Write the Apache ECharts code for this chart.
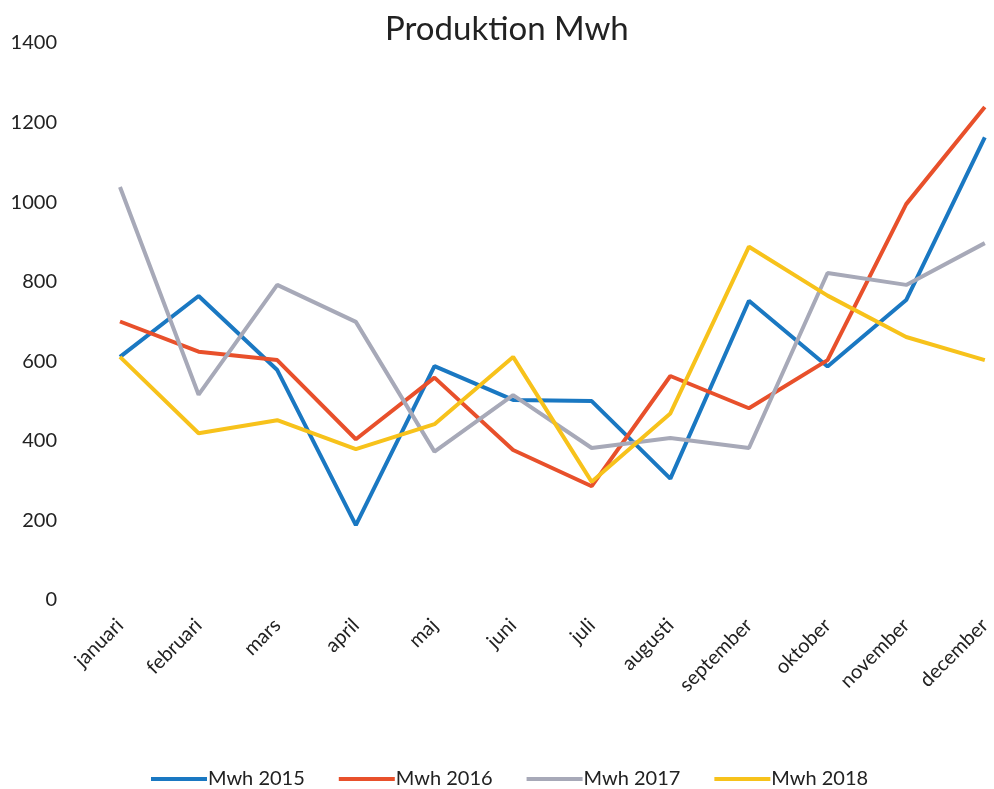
<!DOCTYPE html>
<html>
<head>
<meta charset="utf-8">
<title>Produktion Mwh</title>
<script src="https://cdn.jsdelivr.net/npm/echarts@6/dist/echarts.min.js"></script>
<style>
  html, body { margin: 0; padding: 0; background: #fff; }
  #chart { width: 994px; height: 789px; }
</style>
</head>
<body>
<div id="chart"></div>
<script>
var months = ['januari', 'februari', 'mars', 'april', 'maj', 'juni', 'juli', 'augusti', 'september', 'oktober', 'november', 'december'];
var mwh2015 = [611, 764, 578, 188, 588, 503, 500, 305, 752, 587, 754, 1163];
var mwh2016 = [700, 624, 603, 404, 559, 377, 286, 563, 482, 603, 995, 1239];
var mwh2017 = [1038, 516, 792, 699, 373, 515, 382, 407, 382, 822, 792, 897];
var mwh2018 = [611, 419, 452, 379, 442, 611, 297, 469, 888, 765, 661, 603];
var seriesNames = ['Mwh 2015', 'Mwh 2016', 'Mwh 2017', 'Mwh 2018'];
var colors = ['#1a78c2', '#e8502b', '#a7a9b8', '#f7c21b'];

var font = 'Lato, "Open Sans", sans-serif';

function makeLine(name, data, color) {
    return {
        name: name,
        type: 'line',
        data: data,
        symbol: 'none',
        lineStyle: { color: color, width: 4 },
        itemStyle: { color: color }
    };
}

var option = {
    animation: false,
    color: colors,
    title: {
        text: 'Produktion Mwh',
        left: 380,
        top: 8,
        textStyle: { fontFamily: font, fontSize: 33, fontWeight: 'normal', color: '#222' }
    },
    legend: {
        top: 764,
        left: 146,
        itemWidth: 56,
        itemHeight: 4,
        itemGap: 34,
        icon: 'rect',
        data: seriesNames,
        textStyle: { fontFamily: font, fontSize: 20, color: '#222', padding: [0, 0, 0, -4] }
    },
    grid: { left: 120, right: 4, top: 43, bottom: 189 },
    xAxis: {
        type: 'category',
        boundaryGap: false,
        data: months,
        axisLine: { show: false },
        axisTick: { show: false },
        axisLabel: { rotate: 45, margin: 22, fontFamily: font, fontSize: 20, color: '#222', interval: 0 }
    },
    yAxis: {
        type: 'value',
        min: 0,
        max: 1400,
        interval: 200,
        splitLine: { show: false },
        axisLine: { show: false },
        axisTick: { show: false },
        axisLabel: {
            margin: 63,
            fontFamily: font,
            fontSize: 20,
            color: '#222',
            formatter: function (v) { return String(v); }
        }
    },
    series: [
        makeLine(seriesNames[0], mwh2015, colors[0]),
        makeLine(seriesNames[1], mwh2016, colors[1]),
        makeLine(seriesNames[2], mwh2017, colors[2]),
        makeLine(seriesNames[3], mwh2018, colors[3])
    ]
};

var chart = echarts.init(document.getElementById('chart'));
chart.setOption(option);
</script>
</body>
</html>
